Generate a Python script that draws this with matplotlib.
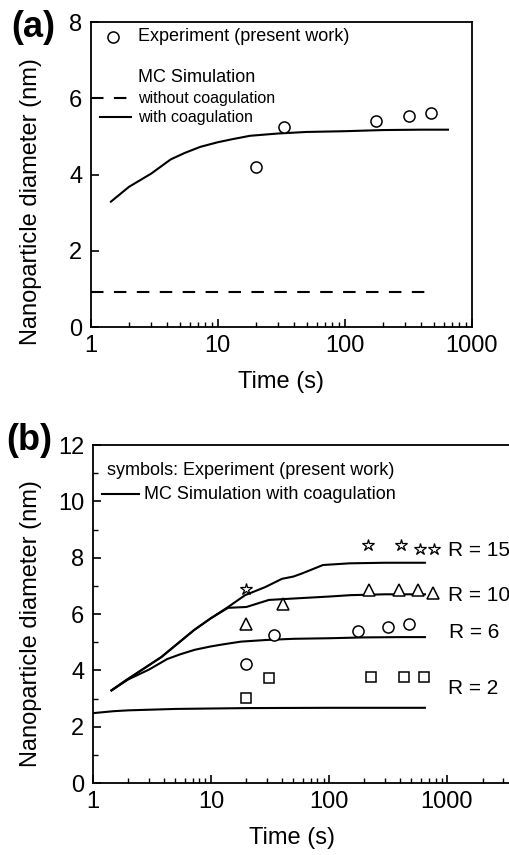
import numpy as np
import matplotlib.pyplot as plt
from matplotlib.ticker import LogLocator, MultipleLocator, NullFormatter, FixedLocator

plt.rcParams['font.family'] = ['Liberation Sans', 'DejaVu Sans']

# (a) dane eksperymentalne
exp_t = [20, 33, 175, 320, 480]
exp_d = [4.2, 5.25, 5.42, 5.54, 5.62]

# symulacja MC z koagulacja (R = 6)
sim6_t = [1.44, 2, 3, 4.26, 5.5, 7.3, 10, 13, 18, 30, 50, 100, 200, 400, 650]
sim6_d = [3.29, 3.68, 4.03, 4.4, 4.57, 4.73, 4.85, 4.93, 5.02, 5.08, 5.12, 5.14, 5.17, 5.18, 5.18]

# bez koagulacji
nocoag_t = [1, 490]
nocoag_d = [0.92, 0.92]

# (b) pozostale serie
sim15_t = [1.44, 1.93, 3.8, 7.2, 10, 14, 19.5, 29, 40, 50, 60, 89, 150, 300, 650]
sim15_d = [3.29, 3.66, 4.47, 5.43, 5.85, 6.25, 6.67, 6.96, 7.25, 7.33, 7.45, 7.74, 7.8, 7.82, 7.82]
sim10_t = [1.44, 1.93, 3.8, 7.2, 10, 14, 20, 31, 50, 100, 153, 300, 650]
sim10_d = [3.29, 3.66, 4.47, 5.43, 5.85, 6.22, 6.25, 6.5, 6.55, 6.62, 6.67, 6.7, 6.7]
sim2_t = [1, 1.5, 2, 5, 20, 100, 650]
sim2_d = [2.48, 2.55, 2.58, 2.63, 2.66, 2.67, 2.67]

star_t = [20, 214, 410, 590, 780]
star_d = [6.89, 8.45, 8.45, 8.3, 8.3]
tri_t = [20, 41, 217, 395, 565, 755]
tri_d = [5.64, 6.35, 6.85, 6.85, 6.85, 6.74]
circ_t = [20, 34, 176, 318, 475]
circ_d = [4.22, 5.25, 5.4, 5.54, 5.64]
sq_t = [20, 31, 228, 430, 635]
sq_d = [3.02, 3.73, 3.77, 3.77, 3.77]

r_labels = ['R = 15', 'R = 10', 'R = 6', 'R = 2']
r_ypos = [8.27, 6.64, 5.36, 3.34]
r_xpos = [1020, 1020, 1040, 1020]

fig = plt.figure(figsize=(5.1, 8.55), dpi=100)
ax1 = fig.add_axes([0.178, 0.6175, 0.747, 0.3565])
ax2 = fig.add_axes([0.182, 0.0842, 0.830, 0.3953])


def style_axis(ax, ymax, ystep):
    ax.set_xscale('log')
    ax.set_ylim(0, ymax)
    ax.yaxis.set_major_locator(MultipleLocator(ystep))
    ax.yaxis.set_minor_locator(MultipleLocator(ystep / 2))
    ax.xaxis.set_major_locator(LogLocator(base=10, numticks=10))
    ax.xaxis.set_minor_locator(LogLocator(base=10, subs=np.arange(2, 10), numticks=20))
    ax.xaxis.set_minor_formatter(NullFormatter())
    ax.xaxis.set_major_formatter(plt.FuncFormatter(lambda v, p: '%d' % round(v)))
    ax.tick_params(which='major', direction='in', length=6, width=1.2, labelsize=17,
                   top=False, right=False, pad=6)
    ax.tick_params(which='minor', direction='in', length=3.5, width=1, top=False, right=False)
    for s in ax.spines.values():
        s.set_linewidth(1.3)
    ax.set_xlabel('Time (s)', fontsize=17, labelpad=10)
    ax.set_ylabel('Nanoparticle diameter (nm)', fontsize=17)


# panel (a)
style_axis(ax1, 8, 2)
ax1.set_xlim(1, 1000)
ax1.yaxis.set_minor_locator(FixedLocator([]))
ax1.yaxis.set_label_coords(-0.129, 0.413)
ax1.plot(sim6_t, sim6_d, color='black', lw=1.5)
ax1.plot(nocoag_t, nocoag_d, color='black', lw=1.5, ls=(0, (6, 5)))
ax1.plot(exp_t, exp_d, 'o', mfc='white', mec='black', ms=8, mew=1.1)
ax1.plot([1.49], [7.62], 'o', mfc='white', mec='black', ms=8, mew=1.1)
ax1.text(2.35, 7.62, 'Experiment (present work)', fontsize=13, va='center')
ax1.text(2.35, 6.55, 'MC Simulation', fontsize=13, va='center')
ax1.plot([1.0, 1.95], [6.0, 6.0], color='black', lw=1.5, ls=(0, (6, 5)))
ax1.text(2.35, 6.0, 'without coagulation', fontsize=11.5, va='center')
ax1.plot([1.18, 2.08], [5.5, 5.5], color='black', lw=1.5)
ax1.text(2.35, 5.5, 'with coagulation', fontsize=11.5, va='center')
fig.text(0.022, 0.988, '(a)', fontsize=26, fontweight='bold', va='top')

# panel (b)
style_axis(ax2, 12, 2)
ax2.set_xlim(1, 10 ** ((510 - 93) / 116.3))
ax2.spines['right'].set_visible(False)
ax2.yaxis.set_label_coords(-0.121, 0.473)
ax2.xaxis.set_label_coords(0.47, -0.13)
for t, d in [(sim15_t, sim15_d), (sim10_t, sim10_d), (sim6_t, sim6_d), (sim2_t, sim2_d)]:
    ax2.plot(t, d, color='black', lw=1.5)
ax2.plot(star_t, star_d, '*', mfc='white', mec='black', ms=9, mew=0.9)
ax2.plot(tri_t, tri_d, '^', mfc='white', mec='black', ms=9, mew=1.1)
ax2.plot(circ_t, circ_d, 'o', mfc='white', mec='black', ms=8, mew=1.1)
ax2.plot(sq_t, sq_d, 's', mfc='white', mec='black', ms=7, mew=1.1)
for lab, x, y in zip(r_labels, r_xpos, r_ypos):
    ax2.text(x, y, lab, fontsize=15, va='center')
ax2.text(1.32, 11.1, 'symbols: Experiment (present work)', fontsize=13, va='center')
ax2.plot([1.2, 2.45], [10.25, 10.25], color='black', lw=1.5)
ax2.text(2.74, 10.25, 'MC Simulation with coagulation', fontsize=13, va='center')
fig.text(0.012, 0.505, '(b)', fontsize=26, fontweight='bold', va='top')

fig.savefig('out.png', dpi=100)
